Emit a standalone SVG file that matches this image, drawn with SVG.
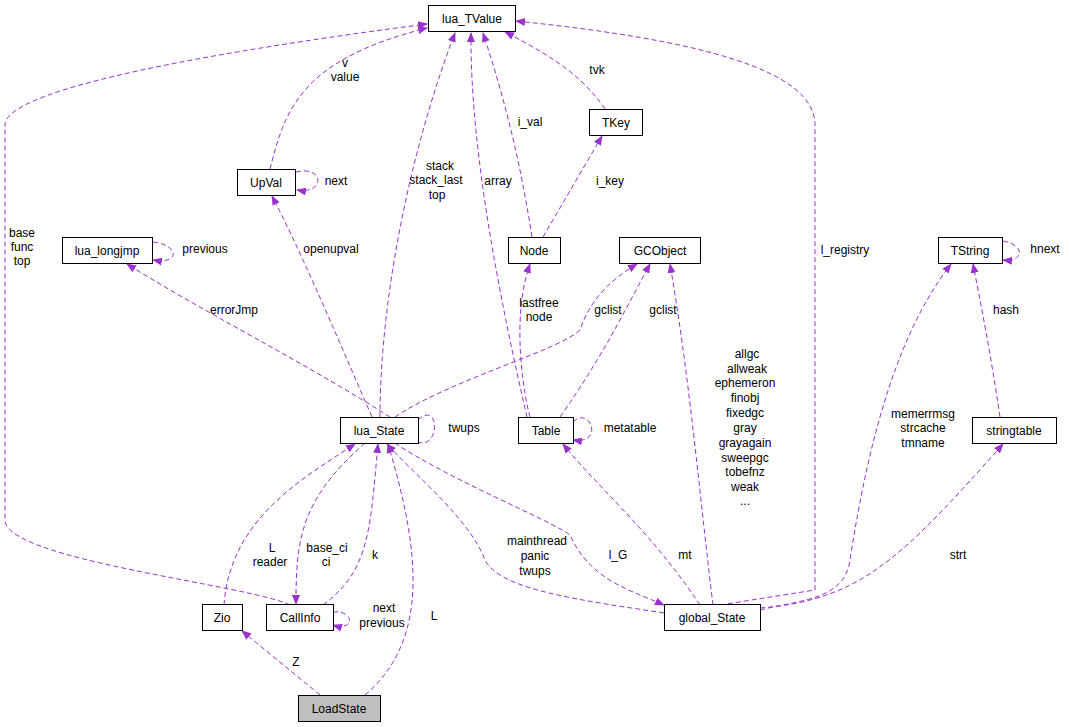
<svg xmlns="http://www.w3.org/2000/svg" width="1069" height="727" viewBox="0 0 1069 727">
<style>
.n rect{fill:#fff;stroke:#000;stroke-width:1}
.n text,.l{font-family:"Liberation Sans",Arial,sans-serif;font-size:12px;fill:#000}
.n text{text-anchor:middle}
.l{text-anchor:middle}
.e path{fill:none;stroke:#9a32cd;stroke-width:1;stroke-dasharray:5,3;marker-end:url(#a)}
</style>
<defs><marker id="a" viewBox="0 0 10 10" refX="9" refY="5" markerWidth="10" markerHeight="10" markerUnits="userSpaceOnUse" orient="auto"><path d="M0,1 L10,5 L0,9 z" fill="#9a32cd"/></marker></defs>
<rect width="1069" height="727" fill="#fff"/>
<g class="e">
<path d="M290,605 C250,585 5,560 5,520 L5,125 C5,95 150,60 427,24"/>
<path d="M270,169 C285,110 300,60 427,28"/>
<path d="M296,172 C325,165 325,195 297,190"/>
<path d="M380,417 C380,300 410,150 455,33"/>
<path d="M527,417 C500,300 470,150 471,33"/>
<path d="M532,237 C520,160 505,100 483,33"/>
<path d="M605,109 C585,80 560,60 505,32"/>
<path d="M720,605 L815,590 L815,125 C815,70 700,40 516,21"/>
<path d="M543,237 L602,136"/>
<path d="M153,242 C180,245 180,265 153,260"/>
<path d="M390,417 C300,360 200,310 127,264"/>
<path d="M372,417 C330,320 300,250 272,196"/>
<path d="M530,417 C525,400 510,320 530,264"/>
<path d="M395,417 C450,380 560,350 580,330 C590,300 610,280 637,264"/>
<path d="M560,417 C600,360 620,320 650,264"/>
<path d="M713,605 C700,500 690,380 670,264"/>
<path d="M418,420 C440,400 440,450 418,442 C400,440 380,430 396,418"/>
<path d="M573,422 C590,405 605,445 573,440"/>
<path d="M700,605 C650,530 600,490 563,444"/>
<path d="M395,443 C450,480 550,520 570,535 C590,580 630,590 664,605"/>
<path d="M664,613 C580,600 500,590 485,560 C470,520 420,480 387,444"/>
<path d="M760,610 C800,600 845,600 850,560 C870,430 900,330 951,264"/>
<path d="M1003,241 C1025,245 1025,262 1003,260"/>
<path d="M1000,417 C990,350 982,310 973,264"/>
<path d="M760,608 C860,600 900,560 1003,444"/>
<path d="M224,605 C230,520 300,480 355,444"/>
<path d="M365,443 C300,500 296,540 296,604"/>
<path d="M323,605 C370,570 370,530 378,444"/>
<path d="M333,612 C355,610 355,632 333,625"/>
<path d="M320,695 L242,631"/>
<path d="M365,695 C430,640 420,550 388,444"/>
</g>
<g class="l">
<text x="22" y="237">base</text><text x="22" y="251">func</text><text x="22" y="265">top</text>
<text x="345" y="67">v</text><text x="345" y="81">value</text>
<text x="336" y="185">next</text>
<text x="440" y="170">stack</text><text x="436" y="184">stack_last</text><text x="437" y="199">top</text>
<text x="498" y="185">array</text>
<text x="530" y="126">i_val</text>
<text x="597" y="74">tvk</text>
<text x="845" y="254">l_registry</text>
<text x="610" y="185">i_key</text>
<text x="205" y="253">previous</text>
<text x="234" y="314">errorJmp</text>
<text x="331" y="253">openupval</text>
<text x="539" y="307">lastfree</text><text x="539" y="321">node</text>
<text x="608" y="314">gclist</text>
<text x="663" y="314">gclist</text>
<text x="747" y="358">allgc</text><text x="747" y="373">allweak</text><text x="745" y="387">ephemeron</text><text x="745" y="402">finobj</text><text x="745" y="417">fixedgc</text><text x="745" y="432">gray</text><text x="745" y="447">grayagain</text><text x="745" y="462">sweepgc</text><text x="745" y="476">tobefnz</text><text x="745" y="491">weak</text><text x="745" y="505">...</text>
<text x="464" y="432">twups</text>
<text x="630" y="432">metatable</text>
<text x="685" y="559">mt</text>
<text x="618" y="559">l_G</text>
<text x="537" y="545">mainthread</text><text x="535" y="560">panic</text><text x="535" y="575">twups</text>
<text x="923" y="418">memerrmsg</text><text x="923" y="432">strcache</text><text x="923" y="447">tmname</text>
<text x="1045" y="253">hnext</text>
<text x="1006" y="314">hash</text>
<text x="958" y="559">strt</text>
<text x="272" y="552">L</text><text x="270" y="566">reader</text>
<text x="327" y="552">base_ci</text><text x="326" y="566">ci</text>
<text x="375" y="559">k</text>
<text x="384" y="612">next</text><text x="382" y="627">previous</text>
<text x="296" y="666">Z</text>
<text x="434" y="620">L</text>
</g>
<g id="lua_TValue" class="n"><rect x="428.5" y="5.5" width="87" height="26"/><text x="472" y="23">lua_TValue</text></g>
<g id="TKey" class="n"><rect x="589.5" y="109.5" width="53" height="26"/><text x="616" y="127">TKey</text></g>
<g id="UpVal" class="n"><rect x="237.5" y="169.5" width="58" height="26"/><text x="266" y="187">UpVal</text></g>
<g id="lua_longjmp" class="n"><rect x="62.5" y="237.5" width="90" height="26"/><text x="107" y="255">lua_longjmp</text></g>
<g id="Node" class="n"><rect x="508.5" y="237.5" width="52" height="26"/><text x="534" y="255">Node</text></g>
<g id="GCObject" class="n"><rect x="619.5" y="237.5" width="81" height="26"/><text x="660" y="255">GCObject</text></g>
<g id="TString" class="n"><rect x="938.5" y="237.5" width="64" height="26"/><text x="970" y="255">TString</text></g>
<g id="lua_State" class="n"><rect x="340.5" y="417.5" width="78" height="26"/><text x="379" y="435">lua_State</text></g>
<g id="Table" class="n"><rect x="518.5" y="417.5" width="55" height="26"/><text x="546" y="435">Table</text></g>
<g id="stringtable" class="n"><rect x="972.5" y="417.5" width="84" height="26"/><text x="1014" y="435">stringtable</text></g>
<g id="Zio" class="n"><rect x="202.5" y="604.5" width="40" height="26"/><text x="222" y="622">Zio</text></g>
<g id="CallInfo" class="n"><rect x="266.5" y="604.5" width="67" height="26"/><text x="300" y="622">CallInfo</text></g>
<g id="global_State" class="n"><rect x="664.5" y="604.5" width="96" height="26"/><text x="712" y="622">global_State</text></g>
<g id="LoadState" class="n"><rect x="298.5" y="695.5" width="82" height="26" style="fill:#bfbfbf"/><text x="339" y="713">LoadState</text></g>
</svg>
